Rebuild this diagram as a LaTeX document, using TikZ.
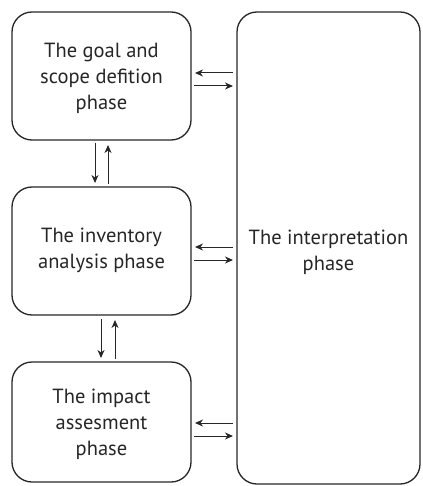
\documentclass[tikz,border=0pt]{standalone}
\usepackage{fontspec}
\setmainfont{PT Sans}
\usetikzlibrary{arrows.meta}
\begin{document}
\begin{tikzpicture}[x=1pt,y=-1pt,
  phase/.style={draw=black!85,line width=1.3pt,rounded corners=20pt},
  lbl/.style={align=center,font=\fontsize{20.5}{26}\selectfont,text=black!85},
  flow/.style={line width=1pt,draw=black!85,-{Stealth[length=8pt,width=7pt,inset=2.5pt]}}]
  \useasboundingbox (0,0) rectangle (422,486);
  % phase boxes
  \draw[phase] (12,12) rectangle (191,140);
  \draw[phase] (12,187) rectangle (191,315);
  \draw[phase] (12,362) rectangle (191,482);
  \draw[phase] (237,12) rectangle (420,484);
  % labels
  \node[lbl] (goal) at (101.5,78) {The goal and\\scope defition\\phase};
  \node[lbl] (inv) at (101.5,250) {The inventory\\analysis phase};
  \node[lbl] (imp) at (101.5,424) {The impact\\assesment\\phase};
  \node[lbl] (interp) at (328.5,252) {The interpretation\\phase};
  % named anchor points for connectors
  \coordinate (g1) at (195,73); \coordinate (r1) at (233,73);
  \coordinate (g2) at (194,86); \coordinate (r2) at (233,86);
  \coordinate (i1) at (195,247); \coordinate (s1) at (233,247);
  \coordinate (i2) at (194,260); \coordinate (s2) at (233,260);
  \coordinate (m1) at (195,423); \coordinate (t1) at (233,423);
  \coordinate (m2) at (194,436); \coordinate (t2) at (233,436);
  \coordinate (a1) at (95,143); \coordinate (b1) at (95,183);
  \coordinate (a2) at (108,145); \coordinate (b2) at (108,184);
  \coordinate (c1) at (101,319); \coordinate (d1) at (101,358);
  \coordinate (c2) at (115,320); \coordinate (d2) at (115,359);
  % horizontal exchanges with the interpretation phase
  \draw[flow] (r1) -- (g1);
  \draw[flow] (g2) -- (r2);
  \draw[flow] (s1) -- (i1);
  \draw[flow] (i2) -- (s2);
  \draw[flow] (t1) -- (m1);
  \draw[flow] (m2) -- (t2);
  % vertical exchanges between phases
  \draw[flow] (a1) -- (b1);
  \draw[flow] (b2) -- (a2);
  \draw[flow] (c1) -- (d1);
  \draw[flow] (d2) -- (c2);
\end{tikzpicture}
\end{document}
